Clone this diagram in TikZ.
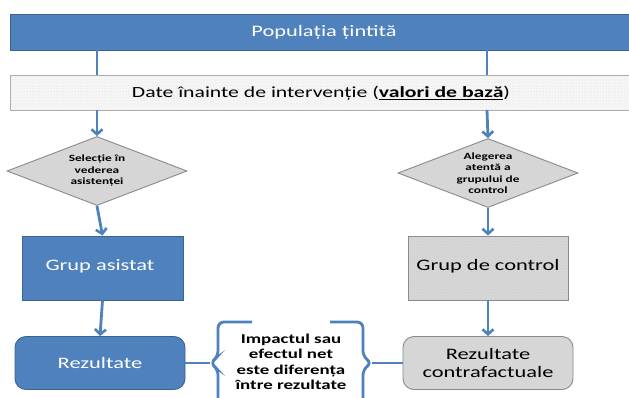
\documentclass[tikz,border=0pt]{standalone}
\usepackage{fontspec}
\setmainfont{Carlito}[FakeStretch=1.4]
\usetikzlibrary{shapes.geometric,arrows.meta,patterns}
\definecolor{obl}{HTML}{4F81BD}
\definecolor{obd}{HTML}{3A6396}
\definecolor{gfill}{HTML}{D6D6D6}
\definecolor{gline}{HTML}{8A8A8A}
\tikzset{
  bluebox/.style={draw=obd, line width=0.9pt, fill=obl, text=white, inner sep=0pt},
  graybox/.style={draw=gline, line width=0.9pt, fill=gfill, text=black, inner sep=0pt},
  dbox/.style={draw=gline!70, line width=0.9pt, fill=gray!7, text=black, inner sep=0pt},
  dia/.style={diamond, draw=gline, line width=0.9pt, fill=gfill, inner sep=0pt, aspect=2.6, minimum width=180pt, minimum height=69pt, align=center, font=\bfseries\fontsize{9.5}{11.5}\selectfont},
  arr/.style={draw=obl, line width=2.8pt, -{Straight Barb[length=5pt,width=11pt,line width=2.6pt]}},
  conn/.style={draw=obl, line width=2.8pt},
  brace/.style={draw=obl, line width=2.8pt, rounded corners=6pt},
}
\begin{document}
\begin{tikzpicture}[x=1pt,y=-1pt]
\clip (0,0) rectangle (629,398);
\fill[white] (0,0) rectangle (629,398);
% top
\node[bluebox, minimum width=640pt, minimum height=36pt, anchor=north west] (pop) at (10,14) {};
\node[text=white, font=\fontsize{16}{18}\selectfont] (popt) at (324,32) {Populația țintită};
\node[dbox, minimum width=640pt, minimum height=35pt, anchor=north west] (date) at (10,75) {};
\fill[pattern=dots, pattern color=gray!30] (10.5,75.5) rectangle (640,109.5);
\node[font=\fontsize{15.5}{17}\selectfont] (datet) at (321,93) {Date înainte de intervenție (\underline{\textbf{valori de bază}})};
% coordinates on boxes
\coordinate (pl) at (97,50);
\coordinate (pr) at (487,50);
\coordinate (dl) at (97,75);
\coordinate (dr) at (487,75);
\coordinate (dlb) at (97,110);
\coordinate (drb) at (487,110);
% diamonds
\node[dia] (sel) at (97,171) {Selecție în\\vederea\\asistenței};
\node[dia] (ale) at (488,173) {Alegerea\\atentă a\\grupului de\\control};
% boxes
\node[bluebox, minimum width=161pt, minimum height=64pt] (ga) at (102.5,268) {};
\node[text=white, font=\fontsize{16}{18}\selectfont] (gat) at (100,266) {Grup asistat};
\node[graybox, minimum width=160pt, minimum height=64pt] (gc) at (488,268) {};
\fill[pattern=dots, pattern color=gray!45] (408.5,236.5) rectangle (567.5,299.5);
\node[font=\fontsize{16}{18}\selectfont] (gct) at (488,266) {Grup de control};
% results
\node[bluebox, rounded corners=11pt, minimum width=170pt, minimum height=53pt, font=\fontsize{16}{18}\selectfont] (rez) at (100,363) {Rezultate};
\node[graybox, rounded corners=11pt, minimum width=170pt, minimum height=53pt, align=center, font=\fontsize{16}{17.5}\selectfont] (rc) at (488,363) {Rezultate\\contrafactuale};
% middle text
\node[align=center, font=\bfseries\fontsize{13.5}{15.5}\selectfont] (imp) at (291,362) {Impactul sau\\efectul net\\este diferența\\între rezultate};
% connectors
\draw[conn] (pl) -- (dl);
\draw[conn] (pr) -- (dr);
\draw[arr] (dlb) -- (sel.north);
\draw[arr] (drb) -- (ale.north);
\draw[arr] (sel.south) -- (ga.north);
\draw[arr] (ale.south) -- (gc.north);
\draw[arr] (ga.south) -- (rez.north);
\draw[arr] (gc.south) -- (rc.north);
% braces
\coordinate (bl) at (210,363);
\coordinate (br) at (372,363);
\draw[brace] (252,322) -- (218,322) -- (218,357) -- (bl) -- (218,369) -- (218,405);
\draw[brace] (330,322) -- (363,322) -- (363,357) -- (br) -- (363,369) -- (363,405);
\draw[conn] (rez.east) -- (bl);
\draw[conn] (br) -- (rc.west);
\end{tikzpicture}
\end{document}
